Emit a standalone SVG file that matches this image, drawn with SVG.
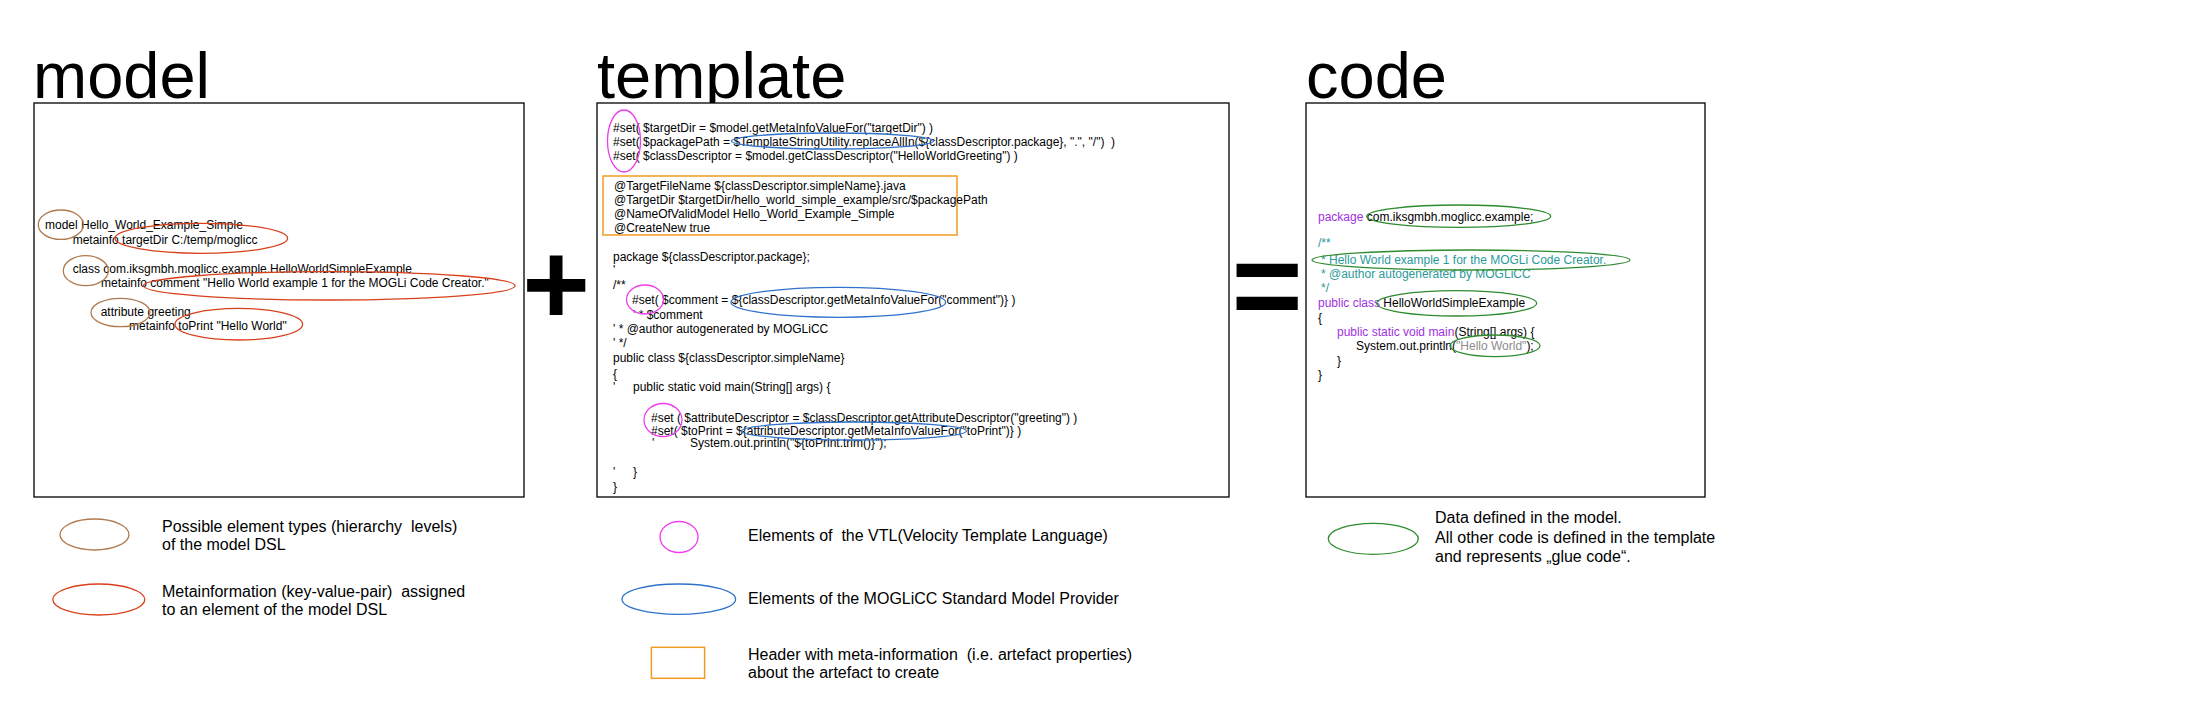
<svg xmlns="http://www.w3.org/2000/svg" width="2207" height="720" viewBox="0 0 2207 720">
<style>
text{font-family:"Liberation Sans",Arial,sans-serif;fill:#000}
.title{font-size:65px}
.t{font-size:12px}
.lg{font-size:16px}
.box{fill:#fff;stroke:#000;stroke-width:1.3}
.br{fill:none;stroke:#b07a4e;stroke-width:1.3}
.rd{fill:none;stroke:#d9401c;stroke-width:1.3}
.mg{fill:none;stroke:#ee3cee;stroke-width:1.3}
.bl{fill:none;stroke:#2e72cc;stroke-width:1.3}
.gr{fill:none;stroke:#2e8b2e;stroke-width:1.3}
.or{fill:none;stroke:#f29b22;stroke-width:1.5}
.kw{fill:#a030e0}
.cm{fill:#2a9a9a}
.st{fill:#8c8c8c}
.op{font-size:116px;font-weight:bold}
</style>
<rect width="2207" height="720" fill="#fff"/>

<g id="titles">
<text class="title" x="33" y="98">model</text>
<text class="title" x="597" y="98">template</text>
<text class="title" x="1306" y="98">code</text>
</g>

<g id="model">
<rect class="box" x="34" y="103" width="490" height="394"/>
<text class="t" x="45" y="228.5">model Hello_World_Example_Simple</text>
<text class="t" x="72.7" y="243.5">metainfo targetDir C:/temp/moglicc</text>
<text class="t" x="72.7" y="272.5">class com.iksgmbh.moglicc.example.HelloWorldSimpleExample</text>
<text class="t" x="101" y="287">metainfo comment "Hello World example 1 for the MOGLi Code Creator."</text>
<text class="t" x="100.7" y="316">attribute greeting</text>
<text class="t" x="129" y="330">metainfo toPrint "Hello World"</text>
<ellipse class="br" cx="60.8" cy="224.7" rx="22.5" ry="14.7"/>
<ellipse class="rd" cx="201.3" cy="238.3" rx="86.3" ry="15"/>
<ellipse class="br" cx="85.8" cy="270.7" rx="22.5" ry="15"/>
<ellipse class="rd" cx="329.2" cy="285.8" rx="185.8" ry="14.2"/>
<ellipse class="br" cx="120.5" cy="312.5" rx="29.5" ry="14.2"/>
<ellipse class="rd" cx="238.8" cy="324.2" rx="63.8" ry="15.8"/>
</g>

<g id="plus"><text class="op" x="556" y="324" text-anchor="middle">+</text></g>

<g id="template">
<rect class="box" x="597" y="103" width="632" height="394"/>
<text class="t" x="613" y="131.5">#set( $targetDir = $model.getMetaInfoValueFor("targetDir") )</text>
<text class="t" x="613" y="145.5">#set( $packagePath = $TemplateStringUtility.replaceAllIn(${classDescriptor.package}, ".", "/")&#160; )</text>
<text class="t" x="613" y="159.5">#set( $classDescriptor = $model.getClassDescriptor("HelloWorldGreeting") )</text>
<rect class="or" x="603" y="176" width="354" height="59"/>
<text class="t" x="614" y="190">@TargetFileName ${classDescriptor.simpleName}.java</text>
<text class="t" x="614" y="204">@TargetDir $targetDir/hello_world_simple_example/src/$packagePath</text>
<text class="t" x="614" y="218">@NameOfValidModel Hello_World_Example_Simple</text>
<text class="t" x="614" y="232">@CreateNew true</text>
<text class="t" x="613" y="261">package ${classDescriptor.package};</text>
<text class="t" x="613" y="274">'</text>
<text class="t" x="613" y="289">/**</text>
<text class="t" x="632" y="304">#set( $comment = ${classDescriptor.getMetaInfoValueFor("comment")} )</text>
<text class="t" x="633" y="319">' * $comment</text>
<text class="t" x="613" y="333">' * @author autogenerated by MOGLiCC</text>
<text class="t" x="613" y="347">' */</text>
<text class="t" x="613" y="362">public class ${classDescriptor.simpleName}</text>
<text class="t" x="613" y="378">{</text>
<text class="t" x="613" y="391">'</text>
<text class="t" x="633" y="391">public static void main(String[] args) {</text>
<text class="t" x="651" y="421.5">#set ( $attributeDescriptor = $classDescriptor.getAttributeDescriptor("greeting") )</text>
<text class="t" x="651" y="434.5">#set( $toPrint = ${attributeDescriptor.getMetaInfoValueFor("toPrint")} )</text>
<text class="t" x="652" y="447">'</text>
<text class="t" x="690" y="447">System.out.println("${toPrint.trim()}");</text>
<text class="t" x="613" y="476">'</text>
<text class="t" x="633" y="476">}</text>
<text class="t" x="613" y="491">}</text>
<ellipse class="mg" cx="624" cy="141" rx="16.5" ry="31"/>
<ellipse class="bl" cx="832.5" cy="141" rx="101" ry="8"/>
<ellipse class="mg" cx="645" cy="299.5" rx="18.5" ry="14.5"/>
<ellipse class="bl" cx="838.3" cy="302.3" rx="107.3" ry="15"/>
<ellipse class="mg" cx="663" cy="420" rx="19" ry="16.5"/>
<ellipse class="bl" cx="854" cy="431" rx="112.5" ry="9"/>
</g>

<g id="equals"><text class="op" x="1267" y="327" text-anchor="middle" style="font-size:122px">=</text></g>

<g id="code">
<rect class="box" x="1306" y="103" width="399" height="394"/>
<text class="t" x="1318" y="221"><tspan class="kw">package</tspan> com.iksgmbh.moglicc.example;</text>
<text class="t cm" x="1318" y="247">/**</text>
<text class="t cm" x="1321" y="264">* Hello World example 1 for the MOGLi Code Creator.</text>
<text class="t cm" x="1321" y="278">* @author autogenerated by MOGLiCC</text>
<text class="t cm" x="1321" y="292">*/</text>
<text class="t" x="1318" y="307"><tspan class="kw">public class</tspan> HelloWorldSimpleExample</text>
<text class="t" x="1318" y="322">{</text>
<text class="t" x="1337" y="336"><tspan class="kw">public static void main</tspan>(String[] args) {</text>
<text class="t" x="1356" y="350">System.out.println(<tspan class="st">"Hello World"</tspan>);</text>
<text class="t" x="1337" y="365">}</text>
<text class="t" x="1318" y="379">}</text>
<ellipse class="gr" cx="1458.7" cy="216.2" rx="92" ry="11.2"/>
<ellipse class="gr" cx="1471" cy="260" rx="159" ry="10"/>
<ellipse class="gr" cx="1456.7" cy="303.3" rx="80" ry="12.7"/>
<ellipse class="gr" cx="1495" cy="345.8" rx="45" ry="10.8"/>
</g>

<g id="legend-model">
<ellipse class="br" cx="94.5" cy="534.5" rx="34.5" ry="15.5"/>
<text class="lg" x="162" y="532">Possible element types (hierarchy&#160; levels)</text>
<text class="lg" x="162" y="550">of the model DSL</text>
<ellipse class="rd" cx="98.8" cy="599.5" rx="46" ry="15.5"/>
<text class="lg" x="162" y="597">Metainformation (key-value-pair)&#160; assigned</text>
<text class="lg" x="162" y="615">to an element of the model DSL</text>
</g>

<g id="legend-template">
<ellipse class="mg" cx="679" cy="537" rx="19" ry="15.5"/>
<text class="lg" x="748" y="541">Elements of&#160; the VTL(Velocity Template Language)</text>
<ellipse class="bl" cx="678.8" cy="599.2" rx="56.8" ry="15.2"/>
<text class="lg" x="748" y="604">Elements of the MOGLiCC Standard Model Provider</text>
<rect class="or" x="651.4" y="647.3" width="53.2" height="31"/>
<text class="lg" x="748" y="660">Header with meta-information&#160; (i.e. artefact properties)</text>
<text class="lg" x="748" y="678.3">about the artefact to create</text>
</g>

<g id="legend-code">
<ellipse class="gr" cx="1373.3" cy="538.8" rx="45" ry="15.5"/>
<text class="lg" x="1435" y="523.3">Data defined in the model.</text>
<text class="lg" x="1435" y="542.7">All other code is defined in the template</text>
<text class="lg" x="1435" y="561.7">and represents „glue code“.</text>
</g>
</svg>
